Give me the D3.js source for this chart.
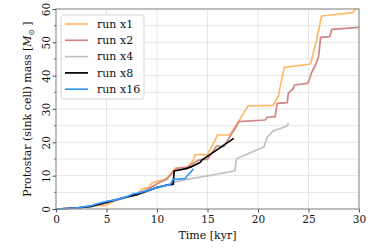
<!DOCTYPE html>
<head>
  <meta charset="utf-8">
  <style>
    body { margin: 0; background: #fff; }
    svg text { font-family: "DejaVu Serif", serif; fill: #111; }
  </style>
</head>
<body>
  <svg width="374" height="252"></svg>
  <script src="https://d3js.org/d3.v7.min.js"></script>
  <script>

  // time [kyr] / mass [Msun] pairs
  var tX1 = [0, 2, 3.5, 4, 5, 5.5, 6, 7, 8, 8.5, 9.2, 9.5, 10, 10.8, 11.3, 11.8, 12.3, 13, 13.6, 13.8, 15.0, 16.0, 17.2, 17.9, 19.0, 21.5, 22.0, 22.6, 25.2, 25.8, 26.3, 29.4, 29.6, 30];
  var mX1 = [0, 0.3, 0.8, 1.0, 1.1, 2.0, 2.6, 3.6, 4.6, 6.0, 6.5, 7.8, 8.3, 8.8, 10.3, 12.3, 12.4, 12.4, 14.7, 16.3, 16.3, 22.2, 22.2, 25.4, 30.9, 31.1, 33.7, 42.5, 43.5, 50.7, 57.9, 58.9, 60, 60];

  var tX2 = [0, 2, 3.5, 4, 5, 6, 7, 8, 9, 10, 11, 11.7, 12, 13, 14, 14.45, 15.0, 15.9, 16.6, 17.9, 18.1, 20.7, 20.9, 21.7, 21.9, 22.9, 23.0, 23.5, 23.6, 24.9, 25.1, 25.3, 25.7, 26.0, 26.2, 27.1, 27.3, 30];
  var mX2 = [0, 0.3, 0.8, 1.1, 1.8, 2.8, 3.6, 4.4, 5.8, 7.6, 9.0, 11.5, 12.2, 12.6, 14.5, 14.9, 14.9, 18.9, 18.7, 25.0, 26.2, 26.7, 27.5, 27.7, 31.7, 31.9, 34.7, 36.2, 37.2, 37.7, 38.9, 40.9, 43.2, 45.7, 51.5, 51.7, 53.9, 54.5];

  var tX4 = [0, 2, 3.5, 4, 5, 6, 7, 8, 9, 10, 11, 12, 13, 17.7, 17.85, 18.1, 20.6, 20.9, 21.5, 22.9, 23.0];
  var mX4 = [0, 0.3, 0.8, 1.1, 1.9, 2.7, 3.5, 4.2, 5.2, 6.3, 7.1, 8.3, 8.9, 11.4, 14.9, 15.4, 18.7, 21.5, 23.4, 24.9, 25.8];

  var tX8 = [0, 2, 3.5, 4, 5, 6, 7, 8, 9, 10, 11, 11.6, 11.7, 12.9, 13.5, 14.3, 14.4, 17.6];
  var mX8 = [0, 0.3, 0.8, 1.2, 2.0, 2.8, 3.6, 4.3, 5.4, 6.5, 7.2, 7.4, 11.4, 12.1, 12.8, 14.0, 14.6, 21.2];

  var tX16 = [0, 2, 3.5, 4, 5, 6, 7, 7.65, 8, 9, 10, 11.3, 11.6, 12.8, 12.97, 13.3, 13.6];
  var mX16 = [0, 0.3, 1.0, 1.5, 2.3, 2.8, 3.7, 4.6, 4.7, 5.5, 6.4, 7.4, 8.9, 9.1, 9.9, 10.9, 12.1];

  var runNames = ["run x1", "run x2", "run x4", "run x8", "run x16"];
  var runColors = ["#ffb966", "#d08585", "#c0c0c0", "#000000", "#3399ff"];
  var xTicks = [0, 5, 10, 15, 20, 25, 30];
  var yTicks = [0, 10, 20, 30, 40, 50, 60];
  var yMinor = [5, 15, 25, 35, 45, 55];

  var runs = [[tX1, mX1], [tX2, mX2], [tX4, mX4], [tX8, mX8], [tX16, mX16]];

  var svg = d3.select("svg");
  var pL = 56, pR = 359, pT = 9, pB = 209;

  var x = d3.scaleLinear().domain([0, 30]).range([pL, pR]);
  var y = d3.scaleLinear().domain([0, 60]).range([pB, pT]);

  // grid
  var grid = svg.append("g").attr("stroke", "#e2e2e2").attr("stroke-width", 0.9);
  grid.selectAll(".gx").data(xTicks).enter().append("line")
      .attr("x1", d => x(d)).attr("x2", d => x(d))
      .attr("y1", pT).attr("y2", pB);
  grid.selectAll(".gy").data(yTicks.concat(yMinor)).enter().append("line")
      .attr("x1", pL).attr("x2", pR)
      .attr("y1", d => y(d)).attr("y2", d => y(d));

  // curves
  var line = d3.line().x(d => x(d[0])).y(d => y(d[1]));
  runs.forEach(function(r, i) {
    var pts = r[0].map((t, j) => [t, r[1][j]]);
    svg.append("path")
        .datum(pts)
        .attr("d", line)
        .attr("fill", "none")
        .attr("stroke", runColors[i])
        .attr("stroke-width", 1.7)
        .attr("stroke-linejoin", "round");
  });

  // frame
  svg.append("rect")
      .attr("x", pL).attr("y", pT)
      .attr("width", pR - pL).attr("height", pB - pT)
      .attr("fill", "none").attr("stroke", "#9a9a9a").attr("stroke-width", 1.2);

  // x axis
  var xAxis = svg.append("g")
      .attr("transform", "translate(0," + pB + ")")
      .call(d3.axisBottom(x).tickValues(xTicks).tickSize(3.5).tickPadding(3));
  xAxis.select(".domain").remove();
  xAxis.selectAll("line").attr("stroke", "#555");
  xAxis.selectAll("text").style("font-size", "10.5px").attr("fill", "#111");

  // y axis, tick labels rotated
  var yAxis = svg.append("g")
      .attr("transform", "translate(" + pL + ",0)")
      .call(d3.axisLeft(y).tickValues(yTicks).tickSize(3.5).tickPadding(3));
  yAxis.select(".domain").remove();
  yAxis.selectAll("line").attr("stroke", "#555");
  yAxis.selectAll("text")
      .style("font-size", "10.5px")
      .attr("fill", "#111")
      .attr("x", null).attr("dy", null)
      .attr("text-anchor", "middle")
      .attr("transform", "translate(-6,0) rotate(-90)");
  svg.append("g").selectAll("line").data(yMinor).enter().append("line")
      .attr("x1", pL - 2).attr("x2", pL)
      .attr("y1", d => y(d)).attr("y2", d => y(d))
      .attr("stroke", "#555").attr("stroke-width", 0.8);

  // axis labels
  svg.append("text")
      .attr("x", (pL + pR) / 2).attr("y", 239)
      .attr("text-anchor", "middle")
      .style("font-size", "11px")
      .text("Time [kyr]");

  var yl = svg.append("text")
      .attr("transform", "translate(31," + (pT + pB) / 2 + ") rotate(-90)")
      .attr("text-anchor", "middle")
      .style("font-size", "11px");
  yl.append("tspan").text("Protostar (sink cell) mass [");
  yl.append("tspan").attr("font-style", "italic").text("M");
  yl.append("tspan").attr("dy", 2.5).style("font-size", "7.5px").text("\u2299");
  yl.append("tspan").attr("dy", -2.5).text(" ]");

  // legend
  var lg = svg.append("g");
  lg.append("rect")
      .attr("x", 61).attr("y", 15).attr("width", 83).attr("height", 84)
      .attr("rx", 2.5)
      .attr("fill", "#fff").attr("fill-opacity", 0.85)
      .attr("stroke", "#d0d0d0").attr("stroke-width", 0.9);
  var item = lg.selectAll(".item").data(runNames).enter().append("g")
      .attr("transform", (d, i) => "translate(0," + (24 + i * 16.3) + ")");
  item.append("line")
      .attr("x1", 65).attr("x2", 88)
      .attr("stroke", (d, i) => runColors[i])
      .attr("stroke-width", 1.7);
  item.append("text")
      .attr("x", 97).attr("dy", "0.35em")
      .style("font-size", "11px")
      .text(d => d);

  </script>
</body>
</html>
